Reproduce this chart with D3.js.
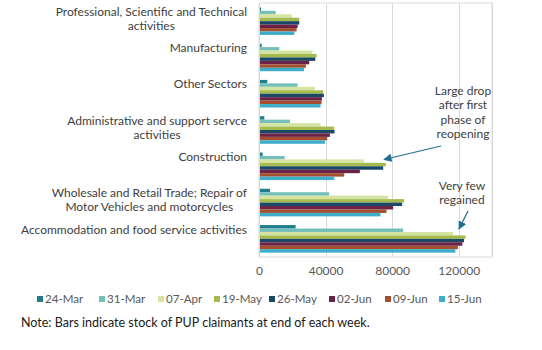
<!DOCTYPE html>
<html>
<head>
<meta charset="utf-8">
<script src="https://cdn.jsdelivr.net/npm/d3@7/dist/d3.min.js"></script>
<style>
  html, body { margin: 0; padding: 0; background: #fff; }
  svg { display: block; font-family: Lato, "Open Sans", sans-serif; }
</style>
</head>
<body>
<svg id="chart" width="542" height="350"></svg>
<script>
// Sectors, top to bottom; each label split into its wrapped lines
const sectors = [
  "Professional, Scientific and Technical activities",
  "Manufacturing",
  "Other Sectors",
  "Administrative and support servce activities",
  "Construction",
  "Wholesale and Retail Trade; Repair of Motor Vehicles and motorcycles",
  "Accommodation and food service activities"
];
const sectorLines = [
  ["Professional, Scientific and Technical", "activities"],
  ["Manufacturing"],
  ["Other Sectors"],
  ["Administrative and support servce", "activities"],
  ["Construction"],
  ["Wholesale and Retail Trade; Repair of", "Motor Vehicles and motorcycles"],
  ["Accommodation and food service activities"]
];

// Week-end dates
const weeks = ["24-Mar", "31-Mar", "07-Apr", "19-May", "26-May", "02-Jun", "09-Jun", "15-Jun"];

// Stock of PUP claimants per sector, one array per week (sector order as above)
const w24Mar = [1200, 1600, 5000, 3200, 2200, 6600, 22000];
const w31Mar = [10000, 12200, 23200, 18600, 15400, 42200, 86600];
const w07Apr = [19600, 32000, 33600, 37000, 63000, 77600, 116600];
const w19May = [24200, 34600, 38600, 45200, 76200, 87200, 124000];
const w26May = [24200, 33800, 39000, 45400, 74600, 86000, 123200];
const w02Jun = [23200, 30200, 37800, 42600, 60600, 80600, 122200];
const w09Jun = [22600, 28200, 37600, 41000, 51200, 76600, 119600];
const w15Jun = [21200, 27000, 37000, 39600, 45200, 73000, 118000];
const weekValues = [w24Mar, w31Mar, w07Apr, w19May, w26May, w02Jun, w09Jun, w15Jun];

const weekColors = ["#1f7d8c", "#74bfba", "#d5e4a3", "#a6bb4e", "#1b4865", "#6c2247", "#a2502f", "#3dadca"];

const xTicks = [0, 40000, 80000, 120000];
const xMax = 140000;

const note = "Note: Bars indicate stock of PUP claimants at end of each week.";

const svg = d3.select("#chart");
const plot = { left: 259, right: 492, top: 3, bottom: 257 };

const x = d3.scaleLinear().domain([0, xMax]).range([plot.left, plot.right]);
const y0 = d3.scaleBand().domain(sectors).range([plot.top, plot.bottom]).paddingInner(0.24).paddingOuter(0.12);
const y1 = d3.scaleBand().domain(weeks).range([0, y0.bandwidth()]);

// plot frame and vertical gridlines
svg.append("rect")
  .attr("x", plot.left).attr("y", plot.top)
  .attr("width", plot.right - plot.left).attr("height", plot.bottom - plot.top)
  .attr("fill", "none").attr("stroke", "#d9d9d9").attr("stroke-width", 1);

svg.append("g").selectAll("line")
  .data(xTicks.concat([xMax]))
  .join("line")
  .attr("x1", d => Math.round(x(d)) + 0.5).attr("x2", d => Math.round(x(d)) + 0.5)
  .attr("y1", plot.top).attr("y2", plot.bottom)
  .attr("stroke", "#d9d9d9").attr("stroke-width", 1);

// bars
const groups = svg.append("g").selectAll("g")
  .data(sectors)
  .join("g")
  .attr("transform", d => `translate(0,${y0(d)})`);

groups.selectAll("rect")
  .data((d, i) => weeks.map((w, k) => ({ week: w, k, value: weekValues[k][i] })))
  .join("rect")
  .attr("x", x(0))
  .attr("y", d => y1(d.week))
  .attr("width", d => x(d.value) - x(0))
  .attr("height", y1.bandwidth())
  .attr("fill", d => weekColors[d.k]);

// category axis (light line at zero) and wrapped labels
svg.append("line")
  .attr("x1", x(0) + 0.5).attr("x2", x(0) + 0.5)
  .attr("y1", plot.top).attr("y2", plot.bottom)
  .attr("stroke", "#d9d9d9");

const catLabels = svg.append("g")
  .attr("font-size", 12)
  .attr("fill", "#404040");

sectors.forEach((s, i) => {
  const cy = y0(s) + y0.bandwidth() / 2;
  const lines = sectorLines[i];
  const first = catLabels.append("text")
    .attr("x", 247)
    .attr("y", cy - 9.5)
    .attr("dy", "0.35em")
    .attr("text-anchor", "end")
    .text(lines[0]);
  // second line is centred under the first
  if (lines.length > 1) {
    const w1 = first.node().getComputedTextLength();
    catLabels.append("text")
      .attr("x", 247 - w1 / 2)
      .attr("y", cy - 9.5 + 14)
      .attr("dy", "0.35em")
      .attr("text-anchor", "middle")
      .text(lines[1]);
  }
});

// value axis
const xAxis = d3.axisBottom(x).tickValues(xTicks).tickFormat(d3.format("d")).tickSize(0).tickPadding(9);
const gx = svg.append("g").attr("transform", `translate(0,${plot.bottom})`).call(xAxis);
gx.select(".domain").remove();
gx.selectAll("text")
  .attr("font-family", "Lato, 'Open Sans', sans-serif")
  .attr("font-size", 12)
  .attr("fill", "#595959");

// annotations
const defs = svg.append("defs");
defs.append("marker")
  .attr("id", "arrow")
  .attr("viewBox", "0 0 10 10")
  .attr("refX", 9).attr("refY", 5)
  .attr("markerWidth", 7).attr("markerHeight", 7)
  .attr("orient", "auto")
  .append("path")
  .attr("d", "M0,0 L10,5 L0,10 z")
  .attr("fill", "#1f7090");

const annotations = [
  { lines: ["Large drop", "after first", "phase of", "reopening"], cx: 463, y: 91, from: [441, 146], to: [384, 159.5] },
  { lines: ["Very few", "regained"], cx: 462, y: 186, from: [468, 211], to: [459, 229] }
];

annotations.forEach(a => {
  a.lines.forEach((l, j) => {
    svg.append("text")
      .attr("font-size", 12)
      .attr("fill", "#404040")
      .attr("text-anchor", "middle")
      .attr("x", a.cx).attr("y", a.y + j * 14.2).attr("dy", "0.35em")
      .text(l);
  });
  svg.append("line")
    .attr("x1", a.from[0]).attr("y1", a.from[1])
    .attr("x2", a.to[0]).attr("y2", a.to[1])
    .attr("stroke", "#1f7090").attr("stroke-width", 1.2)
    .attr("marker-end", "url(#arrow)");
});

// legend
const legendX = [37, 99, 158, 214, 269, 329, 385, 439];
const legend = svg.append("g").attr("font-size", 11.6).attr("fill", "#595959");
weeks.forEach((w, k) => {
  legend.append("rect")
    .attr("x", legendX[k]).attr("y", 296)
    .attr("width", 6).attr("height", 6)
    .attr("fill", weekColors[k]);
  legend.append("text")
    .attr("x", legendX[k] + 8).attr("y", 299)
    .attr("dy", "0.35em")
    .text(w);
});

// footnote
svg.append("text")
  .attr("x", 21).attr("y", 323)
  .attr("dy", "0.35em")
  .attr("font-size", 12.5)
  .attr("fill", "#1a1a1a")
  .text(note);
</script>
</body>
</html>
